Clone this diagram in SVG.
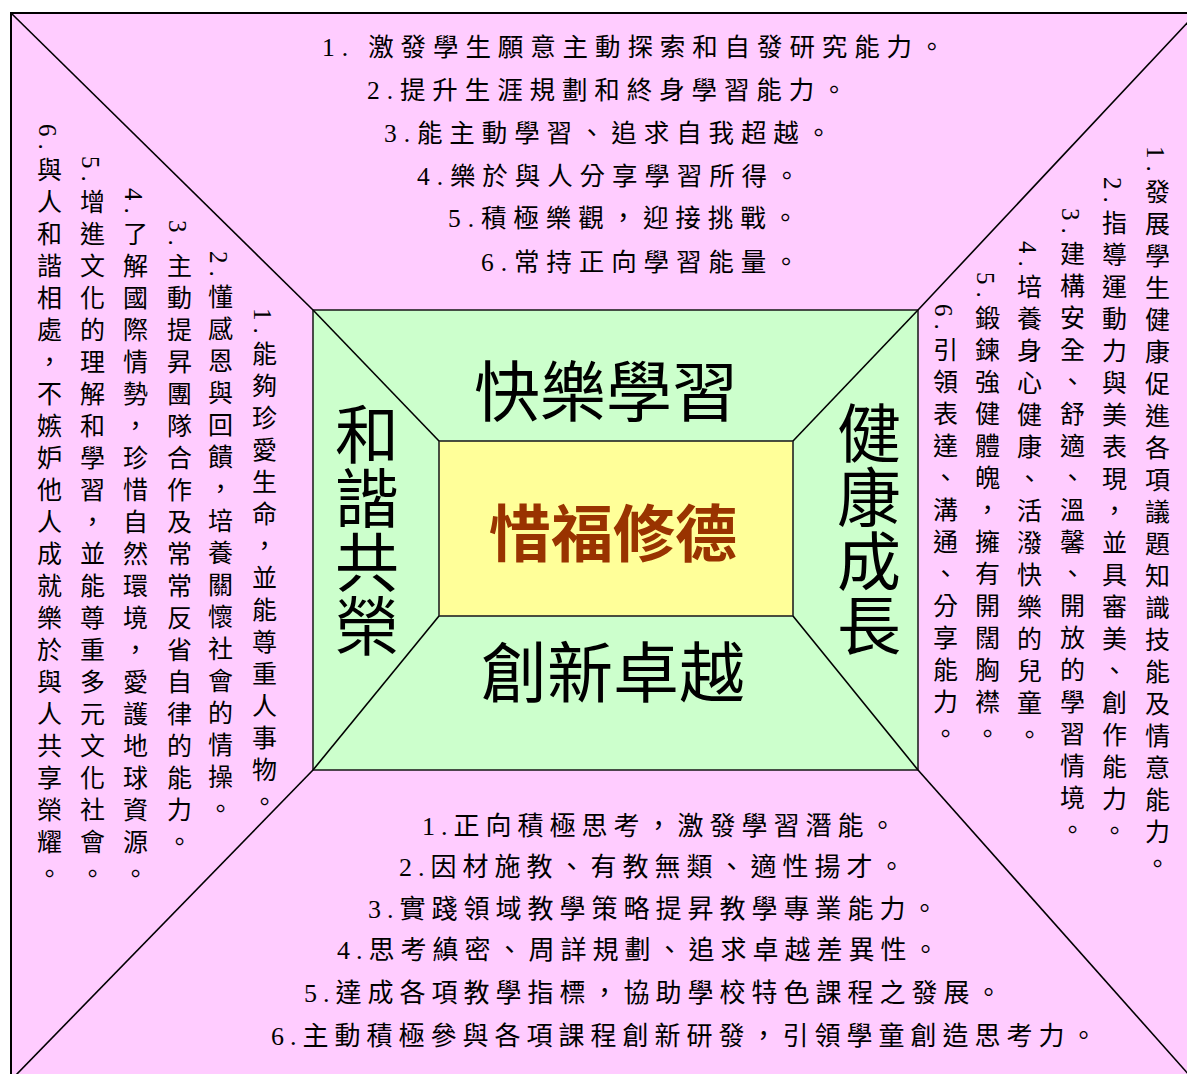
<svg xmlns="http://www.w3.org/2000/svg" width="1187" height="1074" viewBox="0 0 1187 1074">
<style>
.ln{stroke:#000;stroke-width:1.6;fill:none}
.t{font-family:"Liberation Serif","Noto Sans CJK TC",serif;font-size:25.5px;fill:#000;letter-spacing:6.9px;dominant-baseline:central}
.tb{font-family:"Liberation Serif","Noto Sans CJK TC",serif;font-size:26px;fill:#000;letter-spacing:6px;dominant-baseline:central}
.v{font-family:"Liberation Serif","Noto Sans CJK TC",serif;font-size:25px;fill:#000;letter-spacing:7px;writing-mode:vertical-rl}
.big{font-family:"Noto Sans CJK TC","Noto Sans CJK SC",sans-serif;font-size:66px;fill:#000;text-anchor:middle;dominant-baseline:central}
.bigv{font-family:"Noto Sans CJK TC","Noto Sans CJK SC",sans-serif;font-size:64px;fill:#000;text-anchor:middle;writing-mode:vertical-rl}
</style>
<rect x="0" y="0" width="1187" height="1074" fill="#fff"/>
<g id="frame">
<rect x="11" y="13" width="1190" height="1070" fill="#FFCCFF" stroke="#000" stroke-width="2"/>
<rect x="313" y="310" width="605" height="460" fill="#CCFFCC" stroke="#222" stroke-width="1.6"/>
<rect x="439" y="441" width="354" height="175" fill="#FFFF99" stroke="#222" stroke-width="1.6"/>
</g>
<g id="connectors">
<line class="ln" x1="11" y1="13" x2="313" y2="310"/>
<line class="ln" x1="918" y1="310" x2="1190" y2="20"/>
<line class="ln" x1="313" y1="770" x2="15" y2="1076"/>
<line class="ln" x1="918" y1="770" x2="1190" y2="1076"/>
<line class="ln" x1="313" y1="310" x2="439" y2="441"/>
<line class="ln" x1="918" y1="310" x2="793" y2="441"/>
<line class="ln" x1="313" y1="770" x2="439" y2="616"/>
<line class="ln" x1="918" y1="770" x2="793" y2="616"/>
</g>
<g id="center-node">
<text x="613" y="530" style="font-family:'Noto Sans CJK TC','Noto Sans CJK SC',sans-serif;font-size:62px;font-weight:bold;fill:#993300;text-anchor:middle;dominant-baseline:central">惜福修德</text>
</g>
<g id="label-top"><text class="big" x="606" y="387">快樂學習</text></g>
<g id="label-bottom"><text class="big" x="613" y="668">創新卓越</text></g>
<g id="label-left"><text class="bigv" x="367" y="530">和諧共榮</text></g>
<g id="label-right"><text class="bigv" x="869" y="529">健康成長</text></g>
<g id="top-list">
<text class="t" x="322" y="47">1. 激發學生願意主動探索和自發研究能力。</text>
<text class="t" x="367" y="90">2.提升生涯規劃和終身學習能力。</text>
<text class="t" x="384" y="133">3.能主動學習、追求自我超越。</text>
<text class="t" x="417" y="176">4.樂於與人分享學習所得。</text>
<text class="t" x="448" y="218">5.積極樂觀，迎接挑戰。</text>
<text class="t" x="481" y="262">6.常持正向學習能量。</text>
</g>
<g id="bottom-list">
<text class="tb" x="422" y="826">1.正向積極思考，激發學習潛能。</text>
<text class="tb" x="399" y="867">2.因材施教、有教無類、適性揚才。</text>
<text class="tb" x="368" y="909">3.實踐領域教學策略提昇教學專業能力。</text>
<text class="tb" x="337" y="950">4.思考縝密、周詳規劃、追求卓越差異性。</text>
<text class="tb" x="304" y="993">5.達成各項教學指標，協助學校特色課程之發展。</text>
<text class="tb" x="271" y="1036">6.主動積極參與各項課程創新研發，引領學童創造思考力。</text>
</g>
<g id="right-list">
<text class="v" x="1155" y="146">1.發展學生健康促進各項議題知識技能及情意能力。</text>
<text class="v" x="1112" y="177">2.指導運動力與美表現，並具審美、創作能力。</text>
<text class="v" x="1070" y="208">3.建構安全、舒適、溫馨、開放的學習情境。</text>
<text class="v" x="1027" y="241">4.培養身心健康、活潑快樂的兒童。</text>
<text class="v" x="985" y="272">5.鍛鍊強健體魄，擁有開闊胸襟。</text>
<text class="v" x="943" y="304">6.引領表達、溝通、分享能力。</text>
</g>
<g id="left-list">
<text class="v" x="262" y="308">1.能夠珍愛生命，並能尊重人事物。</text>
<text class="v" x="218" y="251">2.懂感恩與回饋，培養關懷社會的情操。</text>
<text class="v" x="177" y="220">3.主動提昇團隊合作及常常反省自律的能力。</text>
<text class="v" x="133" y="188">4.了解國際情勢，珍惜自然環境，愛護地球資源。</text>
<text class="v" x="90" y="156">5.增進文化的理解和學習，並能尊重多元文化社會。</text>
<text class="v" x="47" y="124">6.與人和諧相處，不嫉妒他人成就樂於與人共享榮耀。</text>
</g>
</svg>
